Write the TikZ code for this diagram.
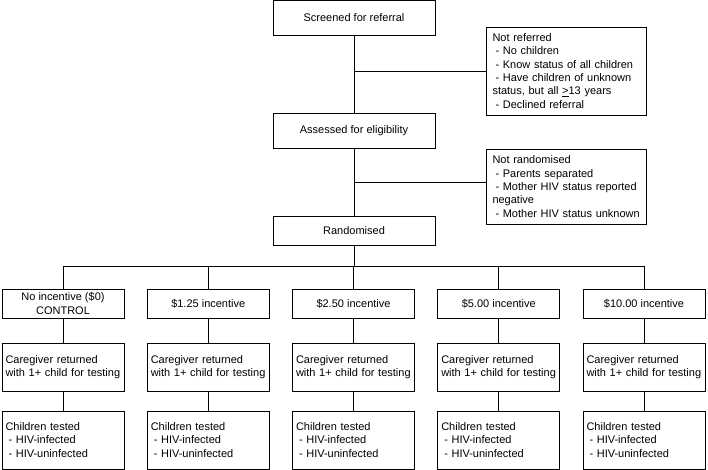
\documentclass[tikz,border=0pt]{standalone}
\usepackage{fontspec}
\setmainfont{Liberation Sans}
\usetikzlibrary{calc}

\tikzset{
 box/.style={draw, align=center, inner sep=3.5pt, font=\fontsize{11}{13.3}\selectfont},
 stage/.style={box, minimum width=162pt, minimum height=35pt},
 arm/.style={box, minimum width=122pt, minimum height=29pt},
 note/.style={box, align=left, text width=148pt, inner xsep=6pt},
 outcome/.style={box, align=left, text width=115pt},
}
\newcommand{\ind}{\hspace*{3pt}}

\begin{document}
\begin{tikzpicture} [x=1pt, y=-1pt, line width=.8pt]
\useasboundingbox (0,0) rectangle (708,470);
\node[stage] (screen) at (354,18) {Screened for referral};
\node[stage] (assess) at (354,130.5) {Assessed for eligibility};
\node[stage, minimum height=29pt] (rand) at (354,230.5) {Randomised};
\node[note, minimum height=88pt] (notref) at (566.5,71) {Not referred\\\ind- No children\\\ind- Know status of all children\\\ind- Have children of unknown\\status, but all \underline{>}13 years\\\ind- Declined referral};
\node[note, minimum height=75pt] (notrand) at (566.5,186.5) {Not randomised\\\ind- Parents separated\\\ind- Mother HIV status reported\\negative\\\ind- Mother HIV status unknown};
\draw (screen) -- (assess);
\draw (assess) -- (rand);
\draw (notref.west) -- (notref.west -| screen.south);
\draw ([yshift=4.5pt]notrand.west) -- ([yshift=4.5pt]notrand.west -| assess.south);
\coordinate (split) at (0,266);
\draw (rand.south) -- (rand.south |- split);
\foreach \i/\lbl [evaluate=\i as \xc using 63+145.25*(\i-1)] in {1/{No incentive (\$0)\\CONTROL}, 2/{\$1.25 incentive}, 3/{\$2.50 incentive}, 4/{\$5.00 incentive}, 5/{\$10.00 incentive}} {
 \node[arm] (arm\i) at (\xc,303.5) {\lbl};
 \node[outcome, minimum height=48pt] (ret\i) at (\xc,367) {Caregiver returned\\with 1+ child for testing};
 \node[outcome, minimum height=58pt] (test\i) at (\xc,440) {Children tested\\\ind- HIV-infected\\\ind- HIV-uninfected};
 \draw (arm\i.north) -- (arm\i.north |- split);
 \draw (arm\i) -- (ret\i);
 \draw (ret\i) -- (test\i);
}
\draw (arm1.north |- split) -- (arm5.north |- split);
\end{tikzpicture}
\end{document}
